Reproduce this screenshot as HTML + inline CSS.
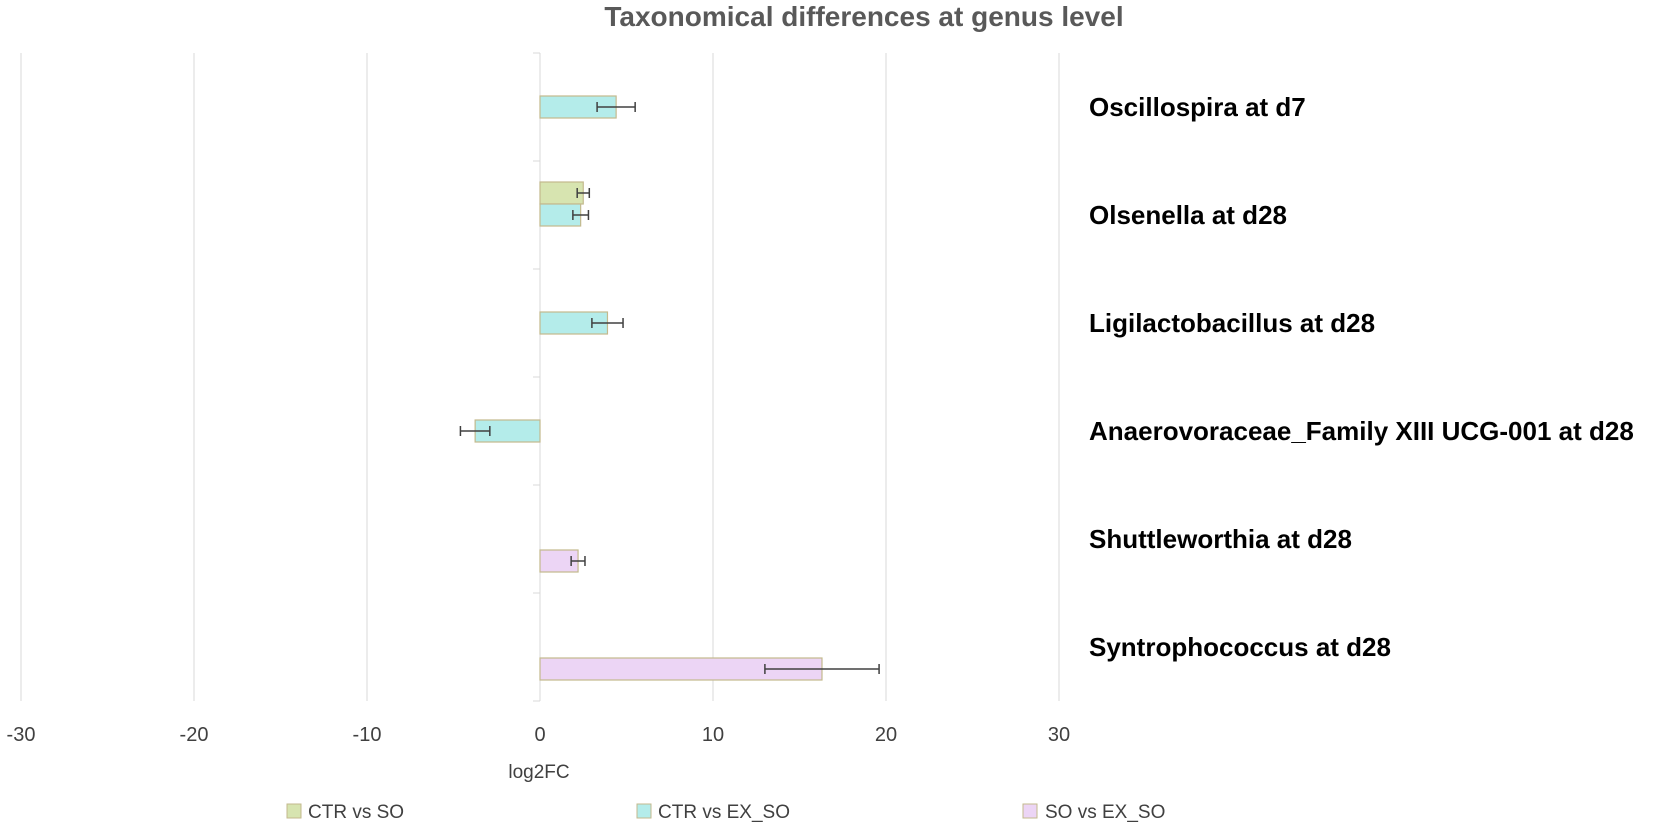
<!DOCTYPE html>
<html><head><meta charset="utf-8"><style>
body{margin:0;background:#fff;width:1654px;height:828px;overflow:hidden;font-family:"Liberation Sans",sans-serif}
svg{display:block}
</style></head><body>
<svg id="chart" width="1654" height="828">
<text x="864" y="26" text-anchor="middle" font-size="28" font-weight="bold" fill="#595959">Taxonomical differences at genus level</text>
<g id="grid"></g><g id="bars"></g><g id="labels"></g><g id="ticks"></g>
<text x="539" y="778" text-anchor="middle" font-size="19" fill="#404040">log2FC</text>
<g>
<rect x="287" y="804" width="14" height="14" fill="#d7e4b0" stroke="#c3b98d"/>
<text x="308" y="818" font-size="19" fill="#404040">CTR vs SO</text>
<rect x="637" y="804" width="14" height="14" fill="#b4ecea" stroke="#c3b98d"/>
<text x="658" y="818" font-size="19" fill="#404040">CTR vs EX_SO</text>
<rect x="1023" y="804" width="14" height="14" fill="#ecd5f5" stroke="#c3b98d"/>
<text x="1045" y="818" font-size="19" fill="#404040">SO vs EX_SO</text>
</g>
</svg>
<script>
const categories=["Oscillospira at d7","Olsenella at d28","Ligilactobacillus at d28","Anaerovoraceae_Family XIII UCG-001 at d28","Shuttleworthia at d28","Syntrophococcus at d28"];
const ctrVsSo=[null,2.5,null,null,null,null];
const ctrVsSoErr=[null,0.35,null,null,null,null];
const ctrVsExSo=[4.4,2.35,3.9,-3.75,null,null];
const ctrVsExSoErr=[1.1,0.45,0.9,0.85,null,null];
const soVsExSo=[null,null,null,null,2.2,16.3];
const soVsExSoErr=[null,null,null,null,0.4,3.3];
const xTicks=[-30,-20,-10,0,10,20,30];
const NS="http://www.w3.org/2000/svg";
const x0=21,x1=1059,yTop=53,yBot=701;
const xs=v=>x0+(v+30)/60*(x1-x0);
const band=(yBot-yTop)/categories.length;
const yc=i=>yTop+band*(i+0.5);
function mk(t,a,p){const e=document.createElementNS(NS,t);for(const k in a)e.setAttribute(k,a[k]);p.appendChild(e);return e;}
const g=document.getElementById('grid'),b=document.getElementById('bars'),l=document.getElementById('labels'),tk=document.getElementById('ticks');
xTicks.forEach(v=>{
 if(v!==0){const ln=mk('line',{x1:xs(v),x2:xs(v),y1:yTop,y2:yBot,stroke:'#d9d9d9','stroke-width':1},g);
 
 }
 const t=mk('text',{x:xs(v),y:741,'text-anchor':'middle','font-size':20,fill:'#404040'},tk);
 t.textContent=v;
 
 
});
const ax=mk('line',{x1:xs(0),x2:xs(0),y1:yTop,y2:yBot,stroke:'#d9d9d9','stroke-width':1},g);


for(let i=0;i<=categories.length;i++){const t=mk('line',{x1:xs(0)-7,x2:xs(0),y1:yTop+band*i,y2:yTop+band*i,stroke:'#d9d9d9'},g);
 
 }
const series=[[ctrVsSo,ctrVsSoErr,'#d7e4b0',-1,'ctr-vs-so'],[ctrVsExSo,ctrVsExSoErr,'#b4ecea',0,'ctr-vs-ex-so'],[soVsExSo,soVsExSoErr,'#ecd5f5',1,'so-vs-ex-so']];
const bh=22;
series.forEach(([vals,errs,col,off,nm])=>{
 vals.forEach((v,i)=>{
  if(v===null)return;
  const cy=yc(i)+off*bh;
  const xa=Math.min(xs(0),xs(v)),w=Math.abs(xs(v)-xs(0));
  const r=mk('rect',{x:xa,y:cy-bh/2,width:w,height:bh,fill:col,stroke:'#c3b98d','stroke-width':1.2},b);
  
  
  const e=errs[i],ea=xs(v-e),eb=xs(v+e);
  const p=mk('path',{d:`M${ea},${cy}H${eb}M${ea},${cy-5}V${cy+5}M${eb},${cy-5}V${cy+5}`,stroke:'#404040','stroke-width':1.5,fill:'none'},b);
  
  
 });
});
categories.forEach((c,i)=>{
 const t=mk('text',{x:1089,y:yc(i)+9,'font-size':26,'font-weight':'bold',fill:'#000'},l);
 t.textContent=c;
 
 
});
</script>
</body></html>
